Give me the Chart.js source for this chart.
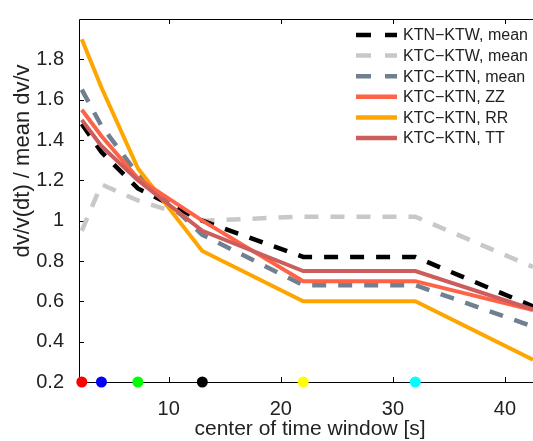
<!DOCTYPE html>
<html>
<head>
<meta charset="utf-8">
<script src="https://cdn.jsdelivr.net/npm/chart.js@4/dist/chart.umd.min.js"></script>
<style>
  html, body { margin: 0; padding: 0; background: #fff; }
  #wrap { width: 533px; height: 441px; }
</style>
</head>
<body>
<div id="wrap"><canvas id="c" width="533" height="441"></canvas></div>
<script>
  'use strict';

  var FONT = "'Liberation Sans', Arial, sans-serif";

  // window centres (s)
  var xs = [2.25, 4, 7.25, 13, 22, 32, 42.5];
  var ktnKtwMean = [1.48, 1.34, 1.16, 1.0, 0.82, 0.82, 0.575];
  var ktcKtwMean = [0.95, 1.18, 1.10, 1.0, 1.02, 1.02, 0.77];
  var ktcKtnMean = [1.65, 1.47, 1.23, 0.93, 0.68, 0.68, 0.475];
  var ktcKtnZZ = [1.55, 1.42, 1.21, 1.0, 0.70, 0.70, 0.557];
  var ktcKtnRR = [1.9, 1.66, 1.26, 0.85, 0.60, 0.60, 0.31];
  var ktcKtnTT = [1.5, 1.37, 1.2, 0.95, 0.75, 0.75, 0.56];

  var dotXs = [2.25, 4, 7.25, 13, 22, 32];
  var dotColors = ['#ff0000', '#0000ff', '#00ff00', '#000000', '#ffff00', '#00ffff'];

  var xTicks = [10, 20, 30, 40];
  var yTicks = [0.2, 0.4, 0.6, 0.8, 1.0, 1.2, 1.4, 1.6, 1.8];

  function pts(ys) {
    return xs.map(function(x, i) { return { x: x, y: ys[i] }; });
  }

  function series(label, ys, color, dashed, order) {
    return {
      label: label,
      data: pts(ys),
      borderColor: color,
      backgroundColor: color,
      borderWidth: dashed ? 4.5 : 4,
      borderDash: dashed ? [14, 12] : [],
      borderCapStyle: 'butt',
      pointRadius: 0,
      tension: 0,
      fill: false,
      order: order
    };
  }

  var datasets = [
    series('KTN\u2212KTW, mean', ktnKtwMean, '#000000', true, 8),
    series('KTC\u2212KTW, mean', ktcKtwMean, '#c8c8c8', true, 9),
    series('KTC\u2212KTN, mean', ktcKtnMean, '#708090', true, 7),
    series('KTC\u2212KTN, ZZ', ktcKtnZZ, '#ff6347', false, 4),
    series('KTC\u2212KTN, RR', ktcKtnRR, '#ffa500', false, 5),
    series('KTC\u2212KTN, TT', ktcKtnTT, '#cd5c5c', false, 3),
    {
      label: '_dots',
      type: 'scatter',
      data: dotXs.map(function(x) { return { x: x, y: 0.2 }; }),
      pointBackgroundColor: dotColors,
      pointBorderWidth: 0,
      pointRadius: 5.5,
      showLine: false,
      clip: false,
      order: 0
    }
  ];

  var framePlugin = {
    id: 'frame',
    beforeDatasetsDraw: function(chart) {
      var ctx = chart.ctx, a = chart.chartArea;
      var sx = chart.scales.x, sy = chart.scales.y;
      ctx.save();
      ctx.strokeStyle = '#000';
      ctx.lineWidth = 1;
      ctx.beginPath();
      ctx.moveTo(a.right + 1, a.top + 0.5);
      ctx.lineTo(a.left + 0.5, a.top + 0.5);
      ctx.lineTo(a.left + 0.5, a.bottom + 0.5);
      ctx.lineTo(a.right + 1, a.bottom + 0.5);
      // inward ticks
      xTicks.forEach(function(v) {
        var px = Math.round(sx.getPixelForValue(v)) + 0.5;
        ctx.moveTo(px, a.bottom); ctx.lineTo(px, a.bottom - 5);
        ctx.moveTo(px, a.top); ctx.lineTo(px, a.top + 5);
      });
      yTicks.forEach(function(v) {
        var py = Math.round(sy.getPixelForValue(v)) + 0.5;
        ctx.moveTo(a.left, py); ctx.lineTo(a.left + 5, py);
      });
      ctx.stroke();
      ctx.restore();
    },
    afterDraw: function(chart) {
      var ctx = chart.ctx;
      ctx.save();
      ctx.fillStyle = '#222';
      ctx.textAlign = 'center';
      ctx.textBaseline = 'middle';
      ctx.font = '21px ' + FONT;
      ctx.fillText('center of time window [s]', 310, 429);
      ctx.translate(23, 161);
      ctx.rotate(-Math.PI / 2);
      ctx.font = '22px ' + FONT;
      ctx.fillText('dv/v(dt) / mean dv/v', 0, 0);
      ctx.restore();

      // legend
      ctx.save();
      ctx.font = '16px ' + FONT;
      ctx.textBaseline = 'middle';
      ctx.textAlign = 'left';
      var row = 0;
      chart.data.datasets.forEach(function(ds) {
        if (ds.label.charAt(0) === '_') return;
        var y = 35 + row * 20.6;
        ctx.strokeStyle = ds.borderColor;
        ctx.lineWidth = 4.5;
        ctx.lineCap = 'butt';
        ctx.beginPath();
        if (ds.borderDash.length) {
          ctx.moveTo(356, y); ctx.lineTo(371, y);
          ctx.moveTo(385, y); ctx.lineTo(397, y);
        } else {
          ctx.moveTo(356, y); ctx.lineTo(397, y);
        }
        ctx.stroke();
        ctx.fillStyle = '#222';
        ctx.fillText(ds.label, 403, y + 1);
        row += 1;
      });
      ctx.restore();
    }
  };

  new Chart(document.getElementById('c'), {
    type: 'line',
    data: { datasets: datasets },
    plugins: [framePlugin],
    options: {
      responsive: false,
      animation: false,
      devicePixelRatio: 1,
      layout: { autoPadding: false, padding: { top: 10, right: 0, left: 0, bottom: 0 } },
      plugins: { legend: { display: false }, tooltip: { enabled: false } },
      scales: {
        x: {
          type: 'linear',
          min: 2,
          max: 42.5,
          grid: { display: false },
          border: { display: false },
          ticks: { color: '#222', font: { family: FONT, size: 20 }, padding: 7, maxRotation: 0 },
          afterBuildTicks: function(s) { s.ticks = xTicks.map(function(v) { return { value: v }; }); },
          afterFit: function(s) { s.height = 59; }
        },
        y: {
          type: 'linear',
          min: 0.2,
          max: 2.0,
          grid: { display: false },
          border: { display: false },
          ticks: {
            color: '#222',
            font: { family: FONT, size: 20 },
            padding: 7,
            callback: function(v) { return String(+(+v).toFixed(1)); }
          },
          afterBuildTicks: function(s) { s.ticks = yTicks.map(function(v) { return { value: v }; }); },
          afterFit: function(s) { s.width = 79; }
        }
      }
    }
  });
</script>
</body>
</html>
